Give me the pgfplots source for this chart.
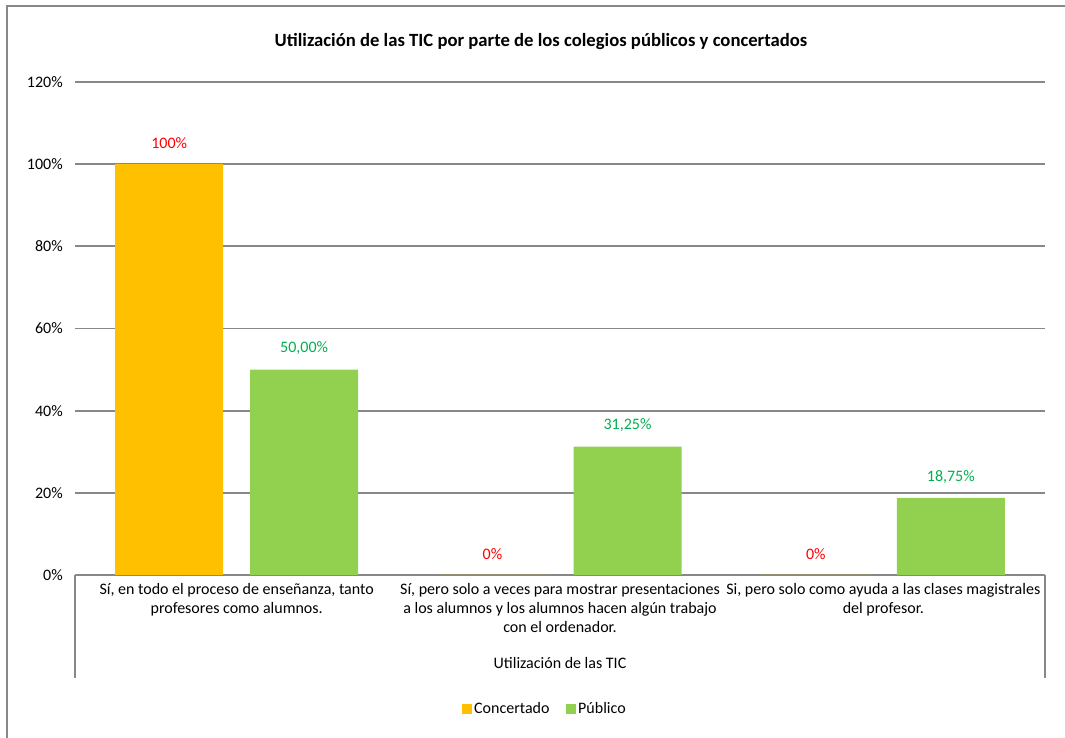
\documentclass[border=0pt]{standalone}
\usepackage{pgfplots}
\pgfplotsset{compat=1.18}
\usepackage{fontspec}
\setmainfont{Carlito}
\definecolor{conc}{HTML}{FFC000}
\definecolor{pub}{HTML}{92D050}
\definecolor{gridc}{HTML}{888888}
\definecolor{labred}{HTML}{FF0000}
\definecolor{labgreen}{HTML}{00B050}
\begin{document}
\fontsize{12}{14}\selectfont
\begin{tikzpicture}
\path[use as bounding box] (-56.25pt,-122.25pt) rectangle (742.5pt,431.25pt);
\begin{axis}[
  at={(0,0)}, anchor=south west,
  scale only axis, width=727.5pt, height=369.75pt,
  ybar=20.25pt, bar width=81pt,
  xmin=-0.5, xmax=2.5, ymin=0, ymax=120,
  xtick={0,1,2},
  xticklabels={{Sí, en todo el proceso de enseñanza, tanto\\profesores como alumnos.},
               {Sí, pero solo a veces para mostrar presentaciones\\a los alumnos y los alumnos hacen algún trabajo\\con el ordenador.},
               {Si, pero solo como ayuda a las clases magistrales\\del profesor.}},
  xticklabel style={align=center, anchor=north, yshift=-2pt, font=\fontsize{12}{14.25}\selectfont},
  ytick={0,20,40,60,80,100,120},
  yticklabels={0\%,20\%,40\%,60\%,80\%,100\%,120\%},
  yticklabel style={xshift=-5pt, font=\fontsize{12}{14}\selectfont},
  /pgf/number format/assume math mode=true,
  major tick length=0pt,
  ymajorgrids, grid style={gridc, line width=1.3pt},
  axis x line*=bottom, axis y line*=left,
  x axis line style={gridc, line width=1.3pt, -},
  y axis line style={draw=none},
  clip=false,
  point meta=explicit symbolic,
  nodes near coords,
  every node near coord/.append style={anchor=center, yshift=16pt, font=\fontsize{12}{14}\selectfont},
  legend columns=2,
  legend style={at={(0.4845,-0.272)}, anchor=center, draw=none, fill=none,
    font=\fontsize{12}{14}\selectfont, /tikz/every even column/.append style={column sep=10pt}},
  legend image code/.code={\fill[#1] (0pt,-3.75pt) rectangle (7.5pt,3.75pt);},
]
\addplot[fill=conc, draw=none, every node near coord/.append style={text=labred}] coordinates {(0,100) [100\%] (1,0) [0\%] (2,0) [0\%]};
\addplot[fill=pub, draw=none, every node near coord/.append style={text=labgreen}] coordinates {(0,50) [{50,00\%}] (1,31.25) [{31,25\%}] (2,18.75) [{18,75\%}]};
\legend{Concertado, Público}
\end{axis}
\draw[gridc, line width=1.3pt] (0pt,0pt) -- (0pt,-77.25pt);
\draw[gridc, line width=1.3pt] (727.5pt,0pt) -- (727.5pt,-77.25pt);
\node at (363.75pt,-66pt) {Utilización de las TIC};
\node[font=\fontsize{14}{16}\selectfont\bfseries] at (349.5pt,399.75pt) {Utilización de las TIC por parte de los colegios públicos y concertados};
\draw[gridc, line width=1.2pt] (-51pt,-122.25pt) -- (-51pt,426.75pt) -- (742.5pt,426.75pt);
\end{tikzpicture}
\end{document}
